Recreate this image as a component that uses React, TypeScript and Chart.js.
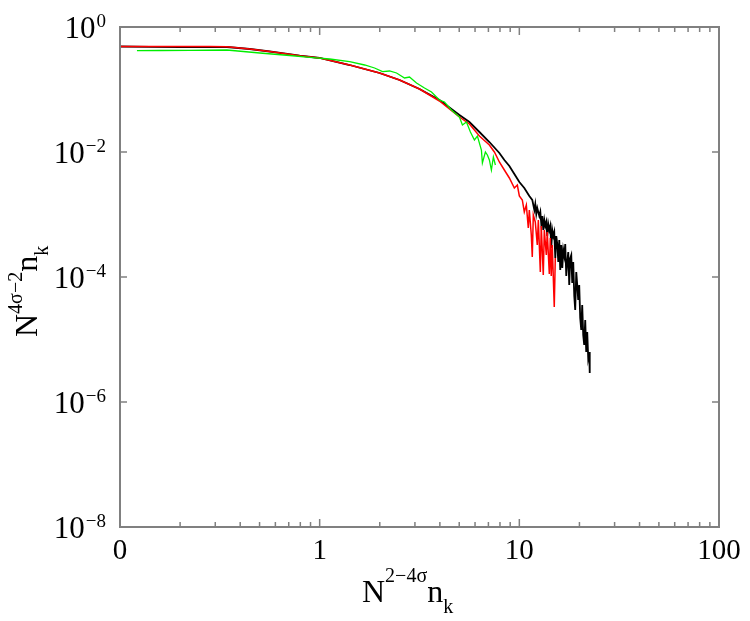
import React, { useEffect, useRef } from "react";
import { Chart, registerables } from "chart.js";

Chart.register(...registerables);

// ---- data ----
const blackX = [0.1, 0.1413, 0.1995, 0.2818, 0.3428, 0.4467, 0.5623, 0.7943, 1, 1.413, 1.995, 2.512, 3.162, 3.981, 5.012, 5.623, 6.31, 7.079, 7.943, 8.414, 8.913, 9.441, 10, 10.59, 11.22,
  11.61, 11.89, 12.02, 12.16, 12.3, 12.59, 12.74, 12.88, 13.03, 13.18, 13.34, 13.49, 13.65, 13.8, 13.96, 14.13, 14.29, 14.45, 14.62, 14.79, 14.96, 15.14, 15.31, 15.49, 15.67, 15.85, 16.03, 16.22, 16.41, 16.6, 16.79, 16.98, 17.18, 17.38, 17.58, 17.78, 17.99, 18.2, 18.41, 18.62, 18.84, 19.05, 19.28, 19.5, 19.72, 19.95, 20.18, 20.42, 20.65, 20.89, 21.13, 21.38, 21.63, 21.88, 22.13, 22.39, 22.52];
const blackY = [0.4875, 0.482, 0.4786, 0.4786, 0.4786, 0.4446, 0.4055, 0.3474, 0.3192, 0.2466, 0.1837, 0.1419, 0.1019, 0.0679, 0.0391, 0.0302, 0.0209, 0.01445, 0.00964, 0.00745, 0.00597, 0.00445, 0.00331, 0.00265, 0.00198,
  0.00171, 0.00118, 0.00147, 0.00102, 0.00127, 0.000946, 0.0011, 0.000705, 0.000946, 0.000565, 0.000817, 0.000655, 0.000759, 0.000453, 0.000705, 0.000565, 0.000655, 0.000291, 0.000565, 0.000453, 0.000525, 0.000201, 0.000453, 0.000337, 0.000174, 0.000391, 0.000129, 0.000325, 0.000139, 0.00027, 0.000217, 0.000337, 0.000104, 0.000174, 0.000251, 0.0000745, 0.000201, 0.000225, 0.00008, 0.000174, 0.0000497, 0.0000296, 0.00012, 0.0000745, 0.0000429, 0.0000745, 0.0000221, 0.0000142, 0.0000356, 0.0000118, 0.0000082, 0.0000205, 0.0000063, 0.0000132, 0.00000506, 0.0000063, 0.00000291];

const redX = [0.1, 0.1413, 0.1995, 0.2818, 0.3428, 0.4467, 0.5623, 0.7943, 1, 1.413, 1.995, 2.512, 3.162, 3.981, 5.012, 5.623, 6.31, 7.079, 7.499, 7.943, 8.414, 8.913, 9.441, 9.772, 10, 10.35, 10.59, 10.84, 11.09, 11.22, 11.48, 11.61, 11.75, 12.02, 12.3, 12.45, 12.74, 12.88, 13.18, 13.34, 13.65, 13.8, 14.13, 14.29, 14.45, 14.62, 14.96, 15.14];
const redY = [0.4875, 0.4875, 0.4857, 0.4857, 0.482, 0.4446, 0.4055, 0.3474, 0.3192, 0.2466, 0.1837, 0.1419, 0.1019, 0.0655, 0.0363, 0.0281, 0.018, 0.01294, 0.01, 0.00692, 0.00515, 0.00384, 0.00265, 0.00296, 0.00198, 0.00171, 0.0011, 0.00142, 0.000608, 0.00118, 0.00047, 0.000209, 0.00098, 0.000759, 0.000325, 0.000817, 0.00012, 0.000655, 0.000108, 0.000565, 0.000225, 0.000525, 0.000112, 0.000421, 0.000104, 0.000325, 0.000033, 0.000201];

const greenX = [0.1216, 0.1585, 0.2239, 0.3428, 0.5012, 0.7079, 0.8913, 1.122, 1.413, 1.679, 1.884, 2.065, 2.239, 2.427, 2.661, 2.818, 3.055, 3.35, 3.631, 3.981, 4.217, 4.571, 5.012, 5.188, 5.433, 5.689, 5.957, 6.166, 6.457, 6.531, 6.761, 6.918, 7.079, 7.244, 7.413, 7.586];
const greenY = [0.4176, 0.4207, 0.4238, 0.4285, 0.3837, 0.3499, 0.3275, 0.3076, 0.2785, 0.2466, 0.2208, 0.1927, 0.1977, 0.1837, 0.1528, 0.1585, 0.1271, 0.1057, 0.0912, 0.0679, 0.0631, 0.047, 0.0363, 0.027, 0.0302, 0.0209, 0.0156, 0.018, 0.01076, 0.00667, 0.01, 0.00895, 0.00745, 0.00515, 0.00832, 0.00619];

const xTickValues = [0.1, 1, 10, 100];
const xTickLabels = ["0", "1", "10", "100"];
const xMinorTicks = [0.2, 0.3, 0.4, 0.5, 0.6, 0.7, 0.8, 0.9, 2, 3, 4, 5, 6, 7, 8, 9, 20, 30, 40, 50, 60, 70, 80, 90];
const yTickExponents = [0, -2, -4, -6, -8];

const SERIF = '"Liberation Serif", "Times New Roman", serif';
const FRAME = "#808080";

const zip = (xs: number[], ys: number[]) => xs.map((x, i) => ({ x, y: ys[i] }));

type Part = { t: string; size: number; dy: number };
function drawParts(ctx: CanvasRenderingContext2D, x: number, y: number, parts: Part[]) {
  let cx = x;
  for (const p of parts) {
    ctx.font = `${p.size}px ${SERIF}`;
    ctx.fillText(p.t, cx, y + p.dy);
    cx += ctx.measureText(p.t).width;
  }
}

const framePlugin = {
  id: "framePlugin",
  afterDraw(chart: any) {
    const ctx: CanvasRenderingContext2D = chart.ctx;
    const { left, right, top, bottom } = chart.chartArea;
    const xs = chart.scales.x;
    const ys = chart.scales.y;
    ctx.save();
    ctx.strokeStyle = FRAME;
    ctx.lineWidth = 2;
    ctx.strokeRect(left, top, right - left, bottom - top);
    ctx.lineWidth = 1.5;
    ctx.beginPath();
    for (const v of xMinorTicks) {
      const px = xs.getPixelForValue(v);
      ctx.moveTo(px, bottom);
      ctx.lineTo(px, bottom - 5);
      ctx.moveTo(px, top);
      ctx.lineTo(px, top + 5);
    }
    for (const v of [1, 10]) {
      const px = xs.getPixelForValue(v);
      ctx.moveTo(px, bottom);
      ctx.lineTo(px, bottom - 8);
      ctx.moveTo(px, top);
      ctx.lineTo(px, top + 8);
    }
    for (const e of [-2, -4, -6]) {
      const py = ys.getPixelForValue(Math.pow(10, e));
      ctx.moveTo(left, py);
      ctx.lineTo(left + 7, py);
      ctx.moveTo(right, py);
      ctx.lineTo(right - 7, py);
    }
    ctx.stroke();

    ctx.fillStyle = "#000";
    ctx.textBaseline = "alphabetic";
    ctx.textAlign = "center";
    ctx.font = `29px ${SERIF}`;
    xTickValues.forEach((v, i) => {
      ctx.fillText(xTickLabels[i], xs.getPixelForValue(v), 559);
    });
    ctx.textAlign = "left";
    for (const e of yTickExponents) {
      const py = ys.getPixelForValue(Math.pow(10, e));
      const sup = e === 0 ? "0" : "\u2212" + String(-e);
      ctx.font = `19px ${SERIF}`;
      const sw = ctx.measureText(sup).width;
      ctx.font = `31px ${SERIF}`;
      const mw = ctx.measureText("10").width;
      const supX = 106 - sw;
      const mainX = supX - mw - 1;
      ctx.fillText("10", mainX, py + 11);
      ctx.font = `19px ${SERIF}`;
      ctx.fillText(sup, supX, py);
    }

    drawParts(ctx, 362, 602, [
      { t: "N", size: 32, dy: 0 },
      { t: "2\u22124\u03c3", size: 20, dy: -20 },
      { t: "n", size: 32, dy: 0 },
      { t: "k", size: 20, dy: 11 },
    ]);
    ctx.translate(37, 337);
    ctx.rotate(-Math.PI / 2);
    drawParts(ctx, 0, 0, [
      { t: "N", size: 32, dy: 0 },
      { t: "4\u03c3\u22122", size: 20, dy: -15 },
      { t: "n", size: 32, dy: 0 },
      { t: "k", size: 20, dy: 11 },
    ]);
    ctx.restore();
  },
};

export default function App() {
  const ref = useRef<HTMLCanvasElement | null>(null);
  useEffect(() => {
    let chart: Chart | null = null;
    let cancelled = false;
    const make = () => {
      if (cancelled || !ref.current) return;
      chart = new Chart(ref.current, {
        type: "line",
        data: {
          datasets: [
            { label: "green", data: zip(greenX, greenY), borderColor: "#00ee00", borderWidth: 1.3, pointRadius: 0, fill: false, tension: 0 },
            { label: "red", data: zip(redX, redY), borderColor: "#ff0000", borderWidth: 1.5, pointRadius: 0, fill: false, tension: 0 },
            { label: "black", data: zip(blackX, blackY), borderColor: "#000000", borderWidth: 1.8, pointRadius: 0, fill: false, tension: 0 },
          ],
        },
        options: {
          responsive: false,
          animation: false,
          devicePixelRatio: 1,
          layout: { padding: { top: 27, right: 31, left: 0, bottom: 0 } },
          plugins: { legend: { display: false }, tooltip: { enabled: false }, title: { display: false } },
          scales: {
            x: {
              type: "logarithmic",
              min: 0.1,
              max: 100,
              grid: { display: false },
              border: { display: false },
              ticks: { display: false },
              afterFit: (s: any) => { s.height = 94; },
            },
            y: {
              type: "logarithmic",
              min: 1e-8,
              max: 1,
              grid: { display: false },
              border: { display: false },
              ticks: { display: false },
              afterFit: (s: any) => { s.width = 120; },
            },
          },
        } as any,
        plugins: [framePlugin],
      });
    };
    const fonts: any = (document as any).fonts;
    if (fonts && fonts.load) {
      Promise.all([
        fonts.load(`31px "Liberation Serif"`),
        fonts.load(`20px "Liberation Serif"`),
      ]).then(make, make);
    } else {
      make();
    }
    return () => {
      cancelled = true;
      if (chart) chart.destroy();
    };
  }, []);
  return (
    <div style={{ position: "fixed", left: 0, top: 0, width: 750, height: 621, background: "#fff" }}>
      <canvas ref={ref} width={750} height={621} style={{ display: "block" }} />
    </div>
  );
}
